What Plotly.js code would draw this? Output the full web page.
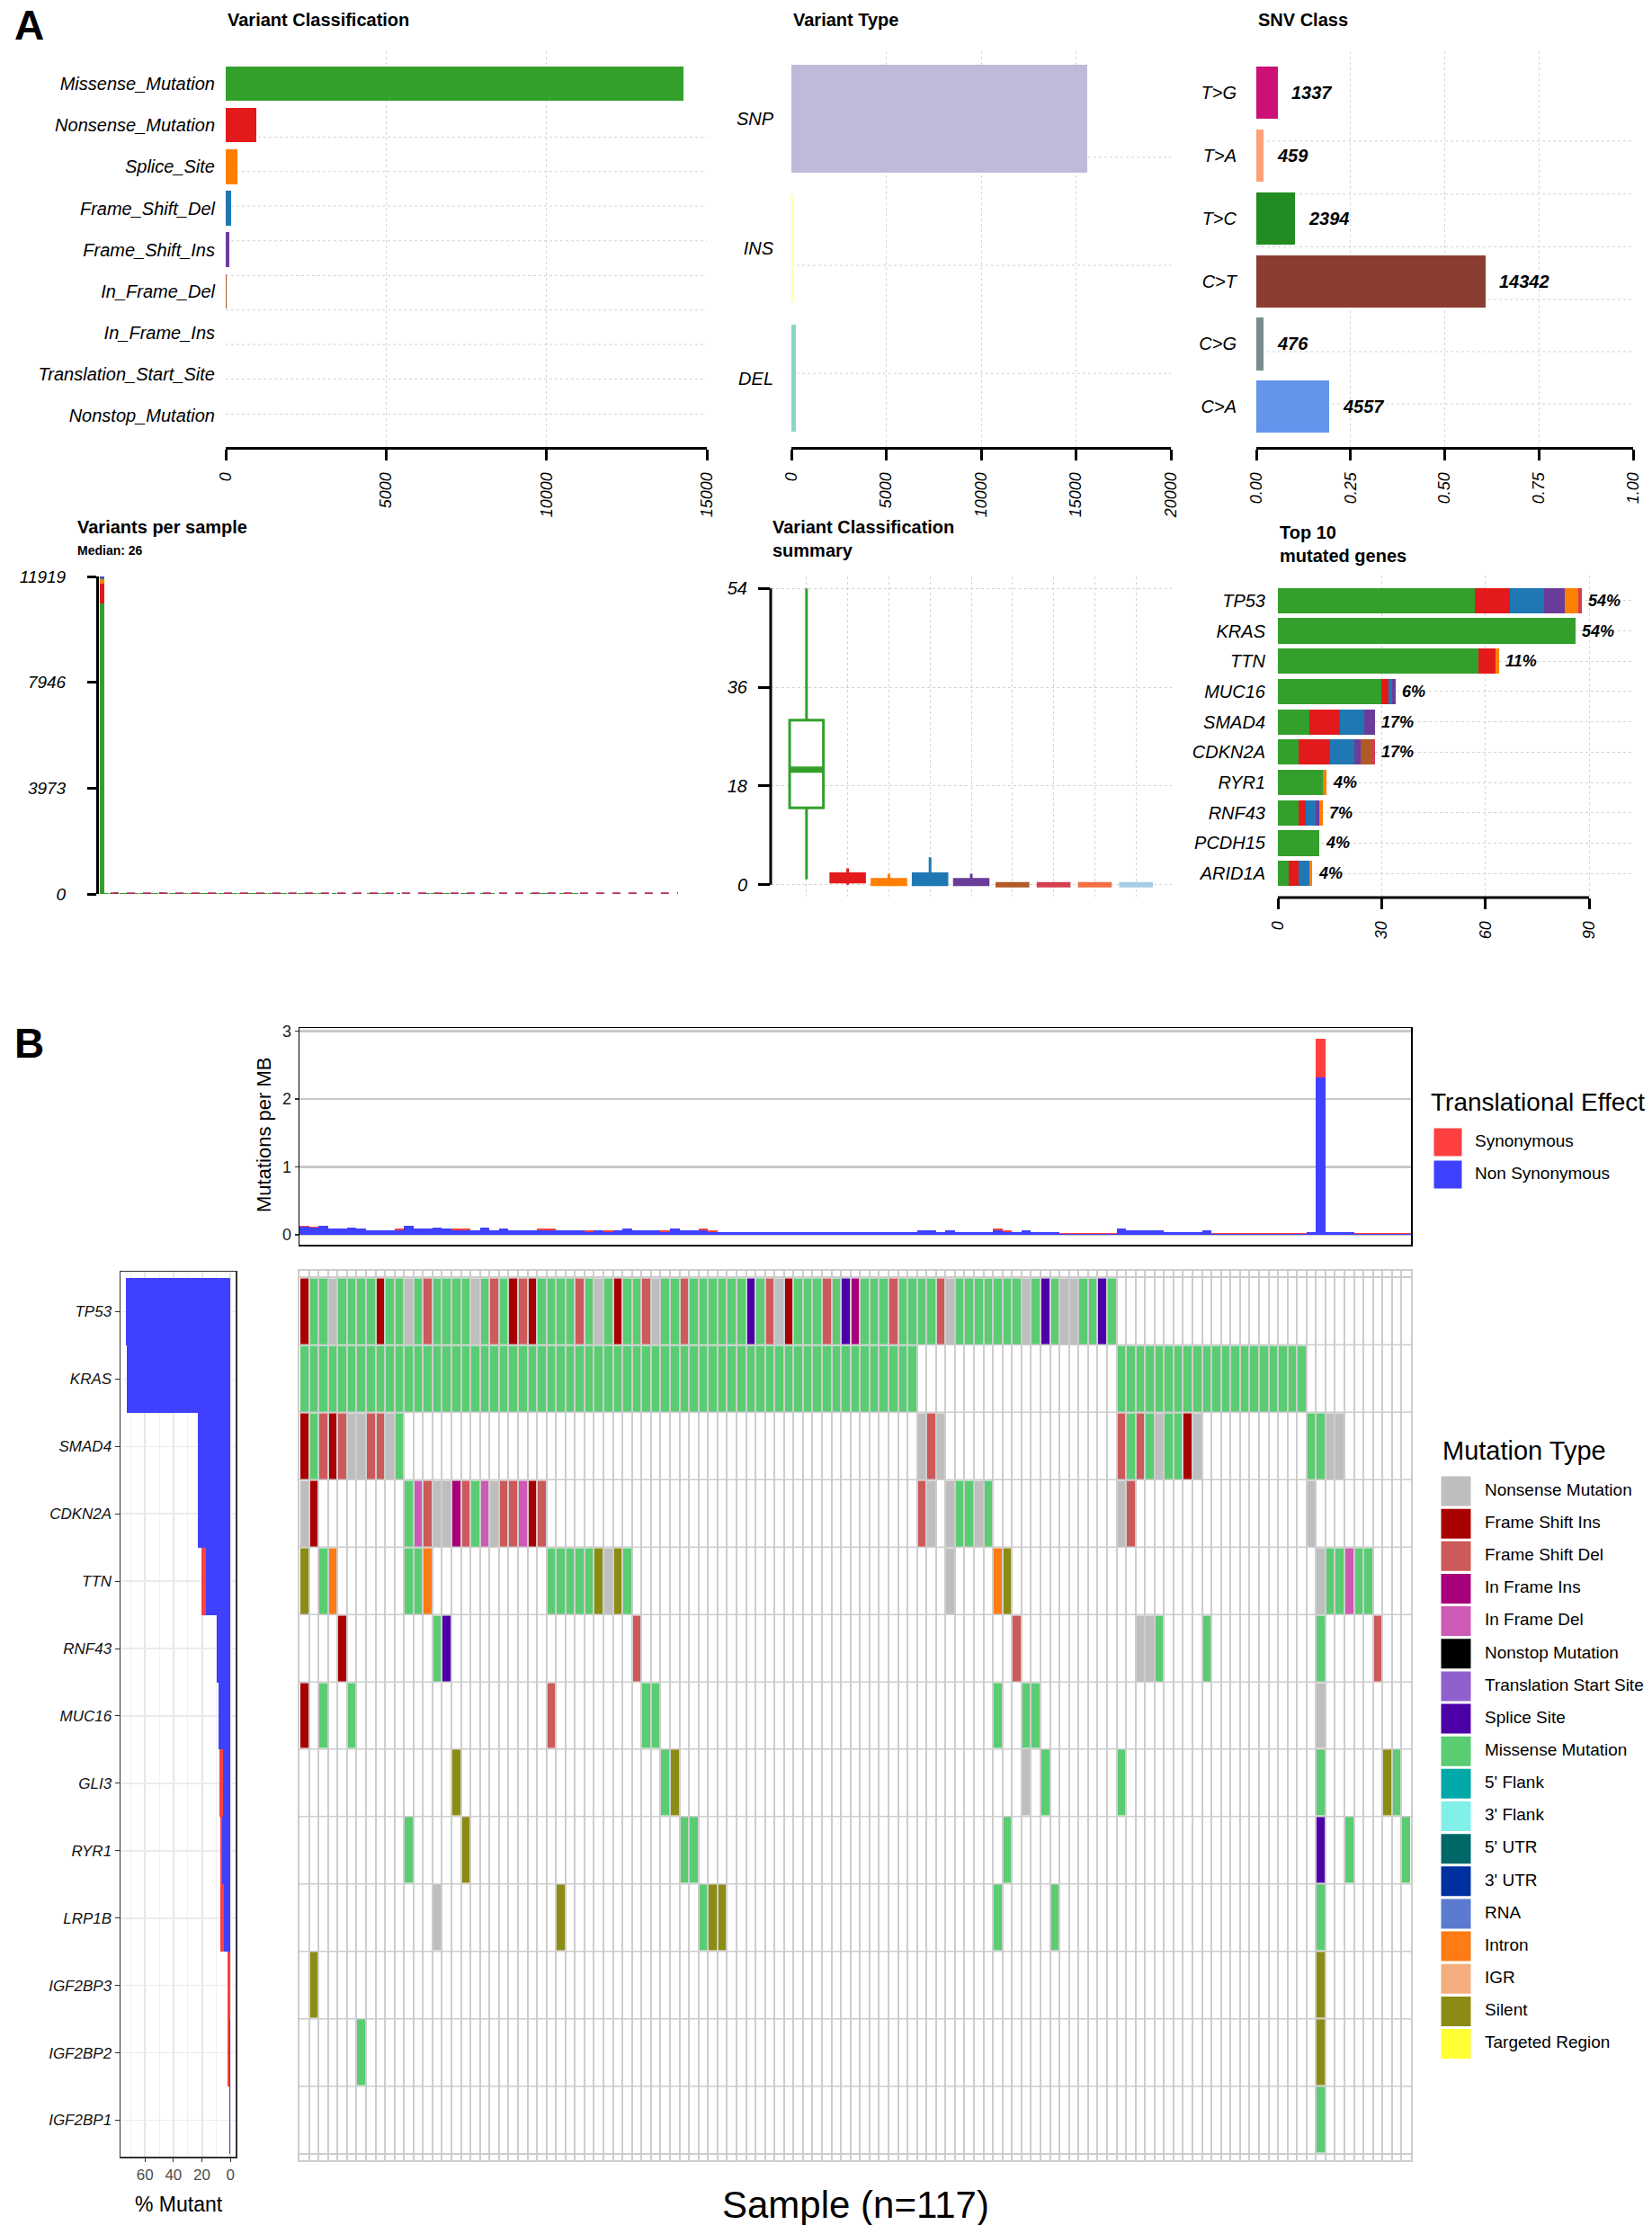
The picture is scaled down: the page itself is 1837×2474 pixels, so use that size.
<!DOCTYPE html>
<html><head><meta charset="utf-8">
<script src="https://cdn.plot.ly/plotly-3.0.1.min.js"></script>
<style>html,body{margin:0;padding:0;background:#fff}#chart{width:1837px;height:2474px}</style>
</head><body><div id="chart"></div>
<script>
// ================= DATA =================
// Panel A: Variant Classification
const vcCategories = ['Missense_Mutation','Nonsense_Mutation','Splice_Site','Frame_Shift_Del','Frame_Shift_Ins','In_Frame_Del','In_Frame_Ins','Translation_Start_Site','Nonstop_Mutation'];
const vcCounts = [14270, 967, 377, 165, 120, 40, 10, 6, 3];
const vcColors = ['#33A02C','#E31A1C','#FF7F00','#1F78B4','#6A3D9A','#B15928','#D53E4F','#F46D43','#A6CEE3'];
// Variant Type
const vtCategories = ['SNP','INS','DEL'];
const vtCounts = [15580, 90, 250];
const vtColors = ['#BEBADA','#FFFFB3','#8DD3C7'];
// SNV Class
const snvCategories = ['T>G','T>A','T>C','C>T','C>G','C>A'];
const snvCounts = [1337, 459, 2394, 14342, 476, 4557];
const snvColors = ['#CD1076','#FFA07A','#228B22','#8B3E2F','#7A8B8B','#6495ED'];
// Variants per sample
const vpsMax = 11919;
const vpsTicks = [0, 3973, 7946, 11919];
const vpsMedian = 26;
const vpsFirstSample = [10900, 750, 180, 50, 30, 5, 2, 1, 1]; // by vcCategories order
const vpsOtherTotals = [48,44,52,39,37,45,36,31,30,29, 31,55,38,37,46,38,33,32,29,45, 30,38,31,30,29,34,32,29,28,27,
  21,30,22,29,37,28,28,27,22,37, 29,28,31,22,18,17,18,17,18,17, 18,18,17,18,17,18,18,17,17,18,
  17,18,17,17,18,29,28,17,30,18, 17,17,18,33,22,17,29,17,18,17, 9,9,9,8,9,9,37,29,28,29,
  28,17,18,17,18,28,9,8,9,8, 9,9,8,9,9,8,17,17,17,17, 9,9,8,9,8,9];
// Variant Classification summary (box stats)
const vcsQ1 = [14, 0.5, 0, 0, 0, 0, 0, 0, 0];
const vcsMedian = [21, 1, 0, 0, 0, 0, 0, 0, 0];
const vcsQ3 = [30, 2, 1, 2, 1, 0, 0, 0, 0];
const vcsLow = [1, 0, 0, 0, 0, 0, 0, 0, 0];
const vcsHigh = [54, 3, 2, 5, 2, 0, 0, 0, 0];
const vcsTicks = [0, 18, 36, 54];
// Top 10 mutated genes
const topGenes = ['TP53','KRAS','TTN','MUC16','SMAD4','CDKN2A','RYR1','RNF43','PCDH15','ARID1A'];
const topMissense = [57, 86, 58, 30, 9, 6, 13, 6, 12, 3];
const topNonsense = [10, 0, 5, 2, 9, 9, 0, 2, 0, 3];
const topFrameDel = [10, 0, 0, 1, 7, 7, 0, 3, 0, 3];
const topFrameIns = [6, 0, 0, 1, 3, 2, 0, 1, 0, 0];
const topSplice   = [4, 0, 1, 0, 0, 0, 1, 1, 0, 1];
const topInDel    = [0, 0, 0, 0, 0, 3, 0, 0, 0, 0];
const topInIns    = [1, 0, 0, 0, 0, 1, 0, 0, 0, 0];
const topPct = ['54%','54%','11%','6%','17%','17%','4%','7%','4%','4%'];
const topTicks = [0, 30, 60, 90];

// Panel B: mutation burden (mutations per MB) per sample
const tmbNonSyn = [0.12,0.10,0.13,0.09,0.09,0.11,0.09,0.07,0.07,0.07, 0.07,0.13,0.09,0.09,0.11,0.09,0.07,0.07,0.07,0.11,
  0.07,0.09,0.07,0.07,0.07,0.07,0.07,0.07,0.07,0.07, 0.04,0.07,0.04,0.07,0.09,0.07,0.07,0.07,0.04,0.09,
  0.07,0.07,0.07,0.04,0.04,0.04,0.04,0.04,0.04,0.04, 0.04,0.04,0.04,0.04,0.04,0.04,0.04,0.04,0.04,0.04,
  0.04,0.04,0.04,0.04,0.04,0.07,0.07,0.04,0.07,0.04, 0.04,0.04,0.04,0.07,0.04,0.04,0.07,0.04,0.04,0.04,
  0.02,0.02,0.02,0.02,0.02,0.02,0.09,0.07,0.07,0.07, 0.07,0.04,0.04,0.04,0.04,0.07,0.02,0.02,0.02,0.02,
  0.02,0.02,0.02,0.02,0.02,0.02,0.04,2.32,0.04,0.04, 0.04,0.02,0.02,0.02,0.01,0.02,0.02];
const tmbSyn = [0.01,0.02,0,0,0,0,0,0,0,0, 0.02,0,0,0,0,0,0.02,0.02,0,0,
  0,0,0,0,0,0.02,0.02,0,0,0, 0.03,0,0.03,0,0,0,0,0,0.03,0,
  0,0,0.02,0.03,0.005,0.005,0.005,0.005,0.005,0.005, 0.005,0.005,0.005,0.005,0.005,0.005,0.005,0.005,0.005,0.005,
  0.005,0.005,0.005,0.005,0.005,0,0,0.005,0,0.005, 0.005,0.005,0.005,0.02,0.03,0.005,0,0.005,0.005,0.005,
  0.005,0.005,0.005,0.005,0.005,0.005,0,0,0,0, 0,0.005,0.005,0.005,0.005,0,0.005,0.005,0.005,0.005,
  0.005,0.005,0.005,0.005,0.005,0.005,0.005,0.57,0.005,0.005, 0.005,0.005,0.005,0.005,0.02,0.005,0.005];
const tmbTicks = [0, 1, 2, 3];
const effectNames = ['Synonymous','Non Synonymous'];
const effectColors = ['#FF4040','#4040FF'];

// Oncoplot: genes and per-sample mutation codes (117 samples, blocks of 10)
// codes: . none, n Nonsense, i FS Ins, d FS Del, I IF Ins, D IF Del, x Nonstop, t TSS, s Splice,
//        m Missense, f 5'Flank, F 3'Flank, u 5'UTR, U 3'UTR, r RNA, o Intron, g IGR, S Silent, T Targeted
const oncoGenes = ['TP53','KRAS','SMAD4','CDKN2A','TTN','RNF43','MUC16','GLI3','RYR1','LRP1B','IGF2BP3','IGF2BP2','IGF2BP1'];
const oncoRows = [
 'immnmmmmim mnmdmmmmnm dmidimmmmd mnmimmdnmm dmmmmmmsmd nimmmdmsIm mmdmmmmdnm mmmmmmnmsm nnmmsm.... .......... .......... .......',
 'mmmmmmmmmm mmmmmmmmmm mmmmmmmmmm mmmmmmmmmm mmmmmmmmmm mmmmmmmmmm mmmmm..... .......... ......mmmm mmmmmmmmmm mmmmmm.... .......',
 'imdidnnddn m......... .......... .......... .......... .......... .....ndn.. .......... ......dmdm nmmin..... ......mmnn .......',
 'ni........ .mDdnnIdmD nddDid.... .......... .......... .......... .....dn.nm mnm....... ......nd.. .......... ......n... .......',
 'S.mo...... .mmo...... ......mmmm mSnSm..... .......... .......... ........n. ...oS..... .......... .......... .......nmm Dmm....',
 '....i..... ....ms.... .......... .....d.... .......... .......... .......... .....d.... ........nn m....m.... .......m.. ...d...',
 'i.m..m.... .......... ......d... ......mm.. .......... .......... .......... ...m..mm.. .......... .......... .......n.. .......',
 '.......... ......S... .......... ........mS .......... .......... .......... ......n.m. ......m... .......... .......m.. ....Sm.',
 '.......... .m.....S.. .......... .......... mm........ .......... .......... ....m..... .......... .......... .......s.. m.....m',
 '.......... ....n..... .......S.. .......... ..mSS..... .......... .......... ...m.....m .......... .......... .......m.. .......',
 '.S........ .......... .......... .......... .......... .......... .......... .......... .......... .......... .......S.. .......',
 '......m... .......... .......... .......... .......... .......... .......... .......... .......... .......... .......S.. .......',
 '.......... .......... .......... .......... .......... .......... .......... .......... .......... .......... .......m.. .......'
];
const mutCodes = ['n','i','d','I','D','x','t','s','m','f','F','u','U','r','o','g','S','T'];
const mutTypes = ['Nonsense Mutation','Frame Shift Ins','Frame Shift Del','In Frame Ins','In Frame Del','Nonstop Mutation','Translation Start Site','Splice Site','Missense Mutation',"5' Flank","3' Flank","5' UTR","3' UTR",'RNA','Intron','IGR','Silent','Targeted Region'];
const mutColors = ['#BEBEBE','#A80000','#CD5A5A','#A8007A','#CD5AB4','#000000','#9060CC','#4C00A8','#5ACC72','#00A8A8','#80F0E8','#006868','#0030A0','#5B7BD1','#FF7B13','#F4AE7E','#8C8C14','#FFFF33'];
const nSamples = 117;
const pctTicks = [0, 20, 40, 60];

// ================= BUILD =================
const W = 1837, H = 2474;
const FONT = 'Liberation Sans, Arial, Helvetica, sans-serif';
const fx = (a, b) => [a / W, b / W];
const fy = (a, b) => [1 - b / H, 1 - a / H];

const data = [];
const shapes = [];
const annotations = [];
function ann(text, x, y, o) {
  return Object.assign({text, x: x / W, y: 1 - y / H, xref: 'paper', yref: 'paper', showarrow: false,
    xanchor: 'left', yanchor: 'middle', font: {family: FONT, size: 18, color: '#000'}}, o || {});
}
function hGrid(xr, yr, fracs) {
  fracs.forEach(f => shapes.push({type: 'line', xref: xr + ' domain', yref: yr + ' domain', x0: 0, x1: 1, y0: f, y1: f,
    line: {color: '#D2D2D2', width: 1, dash: 'dot'}, layer: 'below'}));
}
function barX(dom, rng, vals, labels, anchor) {
  return {domain: dom, range: rng, tickmode: 'array', tickvals: vals, ticktext: labels, showline: true, linecolor: '#000',
    linewidth: 3, ticks: 'outside', ticklen: 12, tickwidth: 3, tickcolor: '#000', tickangle: -90,
    tickfont: {family: FONT, size: 18, style: 'italic', color: '#000'}, showgrid: true, gridcolor: '#D6D6D6',
    griddash: 'dot', gridwidth: 1, zeroline: false, anchor, fixedrange: true, ticklabelstandoff: 6};
}
function catY(dom, rng, cats, anchor, standoff, size) {
  return {domain: dom, range: rng, type: 'category', categoryorder: 'array', categoryarray: cats,
    tickfont: {family: FONT, size: size || 19, style: 'italic', color: '#000'}, ticks: 'outside', ticklen: standoff,
    tickcolor: 'rgba(0,0,0,0)', showgrid: false, zeroline: false, showline: false, anchor, fixedrange: true};
}

// ---- Variant Classification ----
data.push({type: 'bar', orientation: 'h', x: vcCounts, y: vcCategories, xaxis: 'x', yaxis: 'y', width: 0.833,
  marker: {color: vcColors, line: {width: 0}}, hoverinfo: 'x+y'});
hGrid('x', 'y', [0.083, 0.172, 0.259, 0.346, 0.433, 0.521, 0.609, 0.696, 0.783]);
// ---- Variant Type ----
data.push({type: 'bar', orientation: 'h', x: vtCounts, y: vtCategories, xaxis: 'x2', yaxis: 'y2', width: 0.83,
  marker: {color: vtColors, line: {width: 0}}, hoverinfo: 'x+y'});
hGrid('x2', 'y2', [0.186, 0.459, 0.732]);
// ---- SNV Class ----
const snvTotal = snvCounts.reduce((a, b) => a + b, 0);
const snvFrac = snvCounts.map(v => v / snvTotal);
data.push({type: 'bar', orientation: 'h', x: snvFrac, y: snvCategories, xaxis: 'x3', yaxis: 'y3', width: 0.833,
  marker: {color: snvColors, line: {width: 0}}, hoverinfo: 'x+y'});
hGrid('x3', 'y3', [0.109, 0.241, 0.373, 0.506, 0.639, 0.773]);
snvCategories.forEach((c, k) => annotations.push({text: String(snvCounts[k]), x: snvFrac[k], y: c, xref: 'x3', yref: 'y3',
  xanchor: 'left', yanchor: 'middle', xshift: 13, showarrow: false,
  font: {family: FONT, size: 20, weight: 'bold', style: 'italic', color: '#000'}}));

// ---- Variants per sample ----
vcCategories.forEach((c, k) => data.push({type: 'bar', x: [0], y: [vpsFirstSample[k]], xaxis: 'x4', yaxis: 'y4', width: 0.9,
  marker: {color: vcColors[k], line: {width: 0}}, hoverinfo: 'y'}));
data.push({type: 'bar', x: vpsOtherTotals.map((v, i) => i + 1), y: vpsOtherTotals, xaxis: 'x4', yaxis: 'y4', width: 0.9,
  marker: {color: vcColors[0], line: {width: 0}}, hoverinfo: 'y'});
shapes.push({type: 'line', xref: 'x4 domain', yref: 'y4', x0: 0.02, x1: 1, y0: vpsMedian, y1: vpsMedian,
  line: {color: '#B03060', width: 2, dash: 'dash'}});

// ---- Variant Classification summary ----
vcCategories.forEach((c, k) => {
  const flat = vcsQ3[k] === 0;
  data.push({type: 'box', x: [k], q1: [vcsQ1[k]], median: [vcsMedian[k]], q3: [vcsQ3[k]], lowerfence: [vcsLow[k]],
    upperfence: [vcsHigh[k]], xaxis: 'x5', yaxis: 'y5', width: 0.82, whiskerwidth: 0, boxpoints: false,
    fillcolor: k === 0 ? '#FFFFFF' : vcColors[k], line: {color: vcColors[k], width: flat ? 6 : 3}, hoverinfo: 'skip'});
});
data.push({type: 'scatter', mode: 'lines', x: [-0.4, 0.4], y: [vcsMedian[0], vcsMedian[0]], xaxis: 'x5', yaxis: 'y5',
  line: {color: vcColors[0], width: 7}, hoverinfo: 'skip'});
shapes.push({type: 'line', xref: 'x5 domain', yref: 'y5', x0: 0, x1: 0, y0: vcsTicks[0], y1: vcsTicks[vcsTicks.length - 1],
  line: {color: '#000', width: 3}});

// ---- Top 10 mutated genes ----
const topStacks = [topMissense, topNonsense, topFrameDel, topFrameIns, topSplice, topInDel, topInIns];
const topStackColors = [vcColors[0], vcColors[1], vcColors[3], vcColors[4], vcColors[2], vcColors[5], vcColors[6]];
topStacks.forEach((arr, s) => data.push({type: 'bar', orientation: 'h', x: arr, y: topGenes, xaxis: 'x6', yaxis: 'y6',
  width: 0.84, marker: {color: topStackColors[s], line: {width: 0}}, hoverinfo: 'x+y'}));
topGenes.forEach((g, k) => {
  const tot = topStacks.reduce((a, arr) => a + arr[k], 0);
  annotations.push({text: topPct[k], x: tot, y: g, xref: 'x6', yref: 'y6', xanchor: 'left', yanchor: 'middle', xshift: 5,
    showarrow: false, font: {family: FONT, size: 18, weight: 'bold', style: 'italic', color: '#000'}});
});
shapes.push({type: 'line', xref: 'x6', yref: 'y6 domain', x0: topTicks[0], x1: topTicks[topTicks.length - 1], y0: 0, y1: 0,
  line: {color: '#000', width: 3}});

// ---- TMB ----
const sampleIdx = tmbNonSyn.map((v, i) => i);
data.push({type: 'bar', x: sampleIdx, y: tmbNonSyn, xaxis: 'x7', yaxis: 'y7', width: 1,
  marker: {color: effectColors[1], line: {width: 0}}, hoverinfo: 'y'});
data.push({type: 'bar', x: sampleIdx, y: tmbSyn, xaxis: 'x7', yaxis: 'y7', width: 1,
  marker: {color: effectColors[0], line: {width: 0}}, hoverinfo: 'y'});

// ---- Oncoplot grid ----
const clean = r => r.replace(/ /g, '');
const zGrid = oncoRows.map(r => [...clean(r)].map(ch => ch === '.' ? 0 : mutCodes.indexOf(ch) + 1));
zGrid.forEach((row, k) => { if (row.length !== nSamples) console.warn('row length', oncoGenes[k], row.length); });
const allColors = ['#FFFFFF'].concat(mutColors);
const nC = allColors.length;
const cscale = [];
allColors.forEach((c, k) => { cscale.push([k / nC, c]); cscale.push([(k + 1) / nC, c]); });
data.push({type: 'heatmap', z: zGrid, x: sampleIdx.slice(0, nSamples), y: oncoGenes.map((g, k) => k), xaxis: 'x9', yaxis: 'y9',
  colorscale: cscale, zmin: -0.5, zmax: nC - 0.5, showscale: false, xgap: 2, ygap: 2, hoverinfo: 'skip'});

// ---- % Mutant ----
const pctNonSyn = oncoRows.map(r => 100 * [...clean(r)].filter(c => c !== '.' && c !== 'S').length / nSamples);
const pctSyn = oncoRows.map(r => 100 * [...clean(r)].filter(c => c === 'S').length / nSamples);
const geneIdx = oncoGenes.map((g, k) => k);
data.push({type: 'bar', orientation: 'h', x: pctNonSyn, y: geneIdx, xaxis: 'x8', yaxis: 'y8', width: 1,
  marker: {color: effectColors[1], line: {width: 0}}, hoverinfo: 'x'});
data.push({type: 'bar', orientation: 'h', x: pctSyn, y: geneIdx, xaxis: 'x8', yaxis: 'y8', width: 1,
  marker: {color: effectColors[0], line: {width: 0}}, hoverinfo: 'x'});

// ---- Legends (drawn on a page-pixel overlay axis) ----
const effY = effectNames.map((n, k) => 1270 + 36 * k);
data.push({type: 'scatter', mode: 'markers', x: effectNames.map(() => 1610), y: effY, xaxis: 'x10', yaxis: 'y10',
  marker: {symbol: 'square', size: 31, color: effectColors, line: {width: 0}}, hoverinfo: 'skip'});
data.push({type: 'scatter', mode: 'text', x: effectNames.map(() => 1640), y: effY, text: effectNames, textposition: 'middle right',
  xaxis: 'x10', yaxis: 'y10', textfont: {family: FONT, size: 19, color: '#000'}, hoverinfo: 'skip'});
const mtY = mutTypes.map((n, k) => 1658 + 36.15 * k);
data.push({type: 'scatter', mode: 'markers', x: mutTypes.map(() => 1619), y: mtY, xaxis: 'x10', yaxis: 'y10',
  marker: {symbol: 'square', size: 33, color: mutColors, line: {width: 0}}, hoverinfo: 'skip'});
data.push({type: 'scatter', mode: 'text', x: mutTypes.map(() => 1651), y: mtY, text: mutTypes, textposition: 'middle right',
  xaxis: 'x10', yaxis: 'y10', textfont: {family: FONT, size: 19, color: '#000'}, hoverinfo: 'skip'});

// ---- Text annotations ----
annotations.push(ann('A', 14, 0, {yanchor: 'top', font: {family: FONT, size: 46, weight: 'bold', color: '#000'}}));
annotations.push(ann('B', 14, 1160, {font: {family: FONT, size: 46, weight: 'bold', color: '#000'}}));
const tfont = {family: FONT, size: 20, weight: 'bold', color: '#000'};
annotations.push(ann('Variant Classification', 251, 22, {font: tfont}));
annotations.push(ann('Variant Type', 880, 22, {font: tfont}));
annotations.push(ann('SNV Class', 1397, 22, {font: tfont}));
annotations.push(ann('Variants per sample', 84, 586, {font: tfont}));
annotations.push(ann('Median: ' + vpsMedian, 84, 612, {font: {family: FONT, size: 14, weight: 'bold', color: '#000'}}));
annotations.push(ann('Variant Classification<br>summary', 857, 599, {align: 'left', font: tfont}));
annotations.push(ann('Top 10<br>mutated genes', 1421, 605, {align: 'left', font: tfont}));
annotations.push(ann('Mutations per MB', 294, 1262, {xanchor: 'center', textangle: -90, font: {family: FONT, size: 22, color: '#000'}}));
annotations.push(ann('Translational Effect', 1589, 1225, {font: {family: FONT, size: 28, color: '#000'}}));
annotations.push(ann('Mutation Type', 1602, 1613, {font: {family: FONT, size: 29, color: '#000'}}));
annotations.push(ann('% Mutant', 199, 2451, {xanchor: 'center', font: {family: FONT, size: 23, color: '#000'}}));
annotations.push(ann('Sample (n=' + nSamples + ')', 951, 2451, {xanchor: 'center', font: {family: FONT, size: 42, color: '#000'}}));

// ================= LAYOUT =================
const gridCol = '#CDCDCD';
const layout = {
  width: W, height: H, margin: {l: 0, r: 0, t: 0, b: 0}, paper_bgcolor: '#FFFFFF', plot_bgcolor: 'rgba(0,0,0,0)',
  barmode: 'stack', bargap: 0, showlegend: false, font: {family: FONT, color: '#000'}, hovermode: false,
  xaxis: barX(fx(251, 786), [0, 15000], [0, 5000, 10000, 15000], ['0','5000','10000','15000'], 'y'),
  yaxis: catY(fy(57, 497), [8.75, -0.78], vcCategories, 'x', 7, 20),
  xaxis2: barX(fx(880, 1302), [0, 20000], [0, 5000, 10000, 15000, 20000], ['0','5000','10000','15000','20000'], 'y2'),
  yaxis2: catY(fy(57, 497), [2.53, -0.52], vtCategories, 'x2', 15, 20),
  xaxis3: barX(fx(1397, 1816), [0, 1], [0, 0.25, 0.5, 0.75, 1], ['0.00','0.25','0.50','0.75','1.00'], 'y3'),
  yaxis3: catY(fy(57, 497), [5.64, -0.66], snvCategories, 'x3', 17, 20),
  xaxis4: {domain: fx(110, 754), range: [-0.6, 116.6], visible: false, anchor: 'y4', fixedrange: true},
  yaxis4: {domain: fy(641, 994), range: [0, vpsMax], tickmode: 'array', tickvals: vpsTicks, ticktext: vpsTicks.map(String),
    tickfont: {family: FONT, size: 19, style: 'italic', color: '#000'}, ticks: 'outside', ticklen: 10, tickwidth: 3,
    tickcolor: '#000', showline: true, linecolor: '#000', linewidth: 3, showgrid: false, zeroline: false, anchor: 'x4',
    ticklabelstandoff: 20, fixedrange: true},
  xaxis5: {domain: fx(857, 1303), range: [-0.87, 8.87], tickmode: 'array', tickvals: vcCategories.map((c, k) => k),
    showticklabels: false, ticks: '', showgrid: true, gridcolor: '#D3D3D3', griddash: 'dot', gridwidth: 1,
    zeroline: false, showline: false, anchor: 'y5', fixedrange: true},
  yaxis5: {domain: fy(641, 997), range: [-2.16, 56.16], tickmode: 'array', tickvals: vcsTicks, ticktext: vcsTicks.map(String),
    tickfont: {family: FONT, size: 20, style: 'italic', color: '#000'}, ticks: 'outside', ticklen: 13, tickwidth: 3,
    tickcolor: '#000', showline: false, showgrid: true, gridcolor: '#D3D3D3', griddash: 'dot', zeroline: false,
    anchor: 'x5', ticklabelstandoff: 8, fixedrange: true},
  xaxis6: Object.assign(barX(fx(1421, 1817), [0, 103], topTicks, topTicks.map(String), 'y6'), {showline: false}),
  yaxis6: Object.assign(catY(fy(640, 998), [9.8, -0.83], topGenes, 'x6', 9, 20),
    {showgrid: true, gridcolor: '#D3D3D3', griddash: 'dot', gridwidth: 1}),
  xaxis7: {domain: fx(333, 1569), range: [-0.5, 116.5], showticklabels: false, ticks: '', showgrid: false, zeroline: false,
    showline: true, mirror: true, linecolor: '#000', linewidth: 1.5, anchor: 'y7', fixedrange: true},
  yaxis7: {domain: fy(1143, 1384), range: [-0.145, 3.045], tickmode: 'array', tickvals: tmbTicks, ticktext: tmbTicks.map(String),
    tickfont: {family: FONT, size: 18, color: '#1A1A1A'}, ticks: 'outside', ticklen: 4, tickwidth: 1.5, tickcolor: '#333',
    showgrid: true, gridcolor: '#C8C8C8', gridwidth: 2.5, zeroline: false, showline: true, mirror: true, linecolor: '#000',
    linewidth: 1.5, anchor: 'x7', fixedrange: true},
  xaxis8: {domain: fx(134, 262), range: [77.2, -3.68], tickmode: 'array', tickvals: pctTicks, ticktext: pctTicks.map(String),
    tickfont: {family: FONT, size: 17, color: '#4D4D4D'}, ticks: 'outside', ticklen: 4, tickcolor: '#333', showgrid: true,
    gridcolor: '#E6E6E6', gridwidth: 2, minor: {tickvals: [10, 30, 50, 70], showgrid: true, gridcolor: '#F0F0F0', gridwidth: 1, ticks: ''},
    zeroline: false, showline: true, mirror: true, linecolor: '#333', linewidth: 1.5, anchor: 'y8', fixedrange: true},
  yaxis8: {domain: fy(1414, 2398), range: [12.54, -0.593], tickmode: 'array', tickvals: geneIdx, ticktext: oncoGenes,
    tickfont: {family: FONT, size: 17, style: 'italic', color: '#111'}, ticks: 'outside', ticklen: 5, tickcolor: '#333',
    showgrid: true, gridcolor: '#EBEBEB', gridwidth: 1.5, zeroline: false, showline: true, mirror: true, linecolor: '#333',
    linewidth: 1.5, anchor: 'x8', fixedrange: true},
  xaxis9: {domain: fx(333, 1569), range: [-0.5, 116.5], tickmode: 'array', tickvals: Array.from({length: nSamples + 1}, (v, i) => i - 0.5),
    showticklabels: false, ticks: '', showgrid: true, gridcolor: gridCol, gridwidth: 2, zeroline: false, showline: true,
    mirror: true, linecolor: gridCol, linewidth: 2, anchor: 'y9', fixedrange: true},
  yaxis9: {domain: fy(1413, 2402), range: [12.6, -0.6], tickmode: 'array', tickvals: Array.from({length: oncoGenes.length + 1}, (v, i) => i - 0.5),
    showticklabels: false, ticks: '', showgrid: true, gridcolor: gridCol, gridwidth: 2, zeroline: false, showline: true,
    mirror: true, linecolor: gridCol, linewidth: 2, anchor: 'x9', fixedrange: true},
  xaxis10: {domain: [0, 1], range: [0, W], visible: false, anchor: 'y10', fixedrange: true},
  yaxis10: {domain: [0, 1], range: [H, 0], visible: false, anchor: 'x10', fixedrange: true},
  shapes, annotations
};
Plotly.newPlot('chart', data, layout, {staticPlot: true, displayModeBar: false});
</script>
</body></html>
